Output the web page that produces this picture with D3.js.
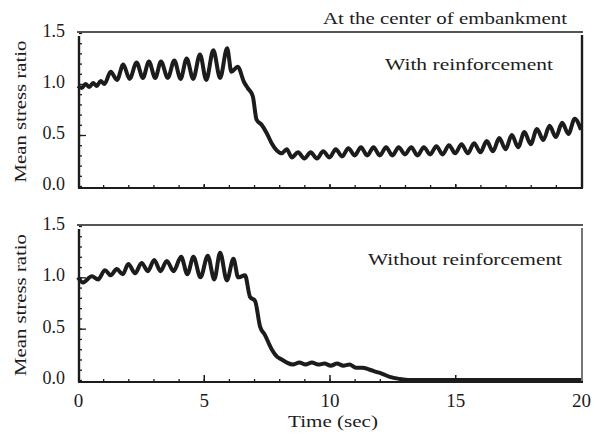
<!DOCTYPE html>
<html>
<head>
<meta charset="utf-8">
<script src="https://cdn.jsdelivr.net/npm/d3@7"></script>
<style>
  body { margin: 0; background: #fff; }
  text { font-family: "Liberation Serif", "Times New Roman", Times, serif; fill: #1c1c1c; }
</style>
</head>
<body>
<div id="chart"></div>
<script>
// time ticks and ratio ticks
let timeTicks = [0, 5, 10, 15, 20]
let ratioTicks = [0.0, 0.5, 1.0, 1.5]

// -- with reinforcement
let withTime = [0, 0.15, 0.3, 0.45, 0.6, 0.75, 0.9, 1.05, 1.3, 1.55, 1.8, 2.05, 2.33, 2.58, 2.82, 3.07,
  3.3, 3.57, 3.83, 4.08, 4.32, 4.58, 4.85, 5.1, 5.38, 5.65, 5.93, 6.1, 6.35, 6.6, 6.75, 6.95, 7.1,
  7.3, 7.5, 7.7, 7.9, 8.1, 8.3, 8.5, 8.75, 9.0, 9.25, 9.5, 9.75, 10.0, 10.25, 10.5, 10.75, 11.0,
  11.25, 11.5, 11.75, 12.0, 12.25, 12.5, 12.75, 13.0, 13.25, 13.5, 13.75, 14.0, 14.25, 14.5, 14.75,
  15.0, 15.25, 15.5, 15.75, 16.0, 16.25, 16.5, 16.75, 17.0, 17.25, 17.5, 17.75, 18.0, 18.25, 18.5,
  18.75, 19.0, 19.25, 19.5, 19.75, 20.0]
let withRatio = [0.98, 0.96, 1.0, 0.97, 1.01, 0.98, 1.03, 1.0, 1.12, 1.04, 1.19, 1.05, 1.21, 1.06, 1.22, 1.06,
  1.22, 1.06, 1.23, 1.05, 1.25, 1.05, 1.29, 1.04, 1.33, 1.06, 1.35, 1.12, 1.17, 1.02, 0.96, 0.88, 0.65,
  0.6, 0.52, 0.42, 0.35, 0.32, 0.36, 0.28, 0.33, 0.27, 0.33, 0.27, 0.34, 0.28, 0.36, 0.29, 0.37, 0.3,
  0.38, 0.3, 0.38, 0.3, 0.38, 0.3, 0.38, 0.31, 0.38, 0.3, 0.38, 0.31, 0.39, 0.31, 0.4,
  0.32, 0.41, 0.32, 0.42, 0.33, 0.44, 0.34, 0.47, 0.36, 0.5, 0.38, 0.53, 0.41, 0.56, 0.45,
  0.59, 0.48, 0.62, 0.51, 0.66, 0.55]

// -- without reinforcement
let withoutTime = [0, 0.2, 0.55, 0.8, 1.07, 1.3, 1.54, 1.78, 2.0, 2.27, 2.53, 2.78, 3.03, 3.28, 3.53, 3.8,
  4.1, 4.35, 4.59, 4.87, 5.16, 5.42, 5.65, 5.92, 6.18, 6.37, 6.64, 6.84, 7.04, 7.24, 7.43, 7.7, 7.9,
  8.1, 8.3, 8.55, 8.8, 9.05, 9.3, 9.55, 9.8, 10.05, 10.3, 10.55, 10.8, 11.05, 11.3, 11.6, 11.85,
  12.1, 12.4, 12.8, 13.2, 20]
let withoutRatio = [1.0, 0.95, 1.01, 0.98, 1.07, 1.02, 1.08, 1.03, 1.13, 1.04, 1.14, 1.06, 1.17, 1.06, 1.16, 1.06,
  1.2, 1.03, 1.2, 1.0, 1.21, 0.98, 1.24, 0.97, 1.18, 1.0, 1.02, 0.81, 0.77, 0.52, 0.44, 0.3, 0.23,
  0.2, 0.17, 0.15, 0.17, 0.15, 0.17, 0.15, 0.16, 0.14, 0.16, 0.14, 0.15, 0.12, 0.12, 0.1, 0.08,
  0.06, 0.03, 0.01, 0.0, 0.0]

let width = 595
let height = 440
let ink = '#1c1c1c'

let svg = d3.select('#chart').append('svg')
  .attr('width', width)
  .attr('height', height)

let xScale = d3.scaleLinear().domain([0, 20]).range([78, 581])

let panels = [
  { time: withTime, ratio: withRatio, top: 33, bottom: 186, label: 'With reinforcement',
    lx: 385, ly: 70, lw: 168, rightWidth: 2.4, showX: false },
  { time: withoutTime, ratio: withoutRatio, top: 226, bottom: 380, label: 'Without reinforcement',
    lx: 368, ly: 265, lw: 194, rightWidth: 1.2, showX: true }
]

panels.forEach(p => {
  let yScale = d3.scaleLinear().domain([0, 1.5]).range([p.bottom, p.top])
  let axisY = p.bottom + 2

  // frame: top line, right side
  svg.append('line')
    .attr('x1', 77).attr('x2', 583)
    .attr('y1', p.top - 1).attr('y2', p.top - 1)
    .attr('stroke', ink).attr('stroke-width', 1.5)
  svg.append('line')
    .attr('x1', 582).attr('x2', 582)
    .attr('y1', p.top + 2).attr('y2', axisY)
    .attr('stroke', ink).attr('stroke-width', p.rightWidth)

  // -- Y axis, ticks pointing inward
  svg.append('g')
    .attr('transform', 'translate(79, 0)')
    .call(d3.axisRight(yScale).tickValues(d3.range(0, 1.51, 0.1)).tickSize(3).tickFormat(''))
    .call(g => g.select('.domain').remove())
    .call(g => g.selectAll('line').attr('stroke', ink).attr('stroke-width', 1.3))
  svg.append('g')
    .attr('transform', 'translate(79, 0)')
    .call(d3.axisRight(yScale).tickValues([0.5, 1.0]).tickSize(7).tickFormat(''))
    .call(g => g.select('.domain').remove())
    .call(g => g.selectAll('line').attr('stroke', ink).attr('stroke-width', 1.3))
  svg.append('g')
    .attr('transform', 'translate(79, 0)')
    .call(d3.axisLeft(yScale).tickValues(ratioTicks).tickSize(0).tickPadding(14).tickFormat(d3.format('.1f')))
    .call(g => g.select('.domain').remove())
    .call(g => g.selectAll('text').style('font-size', '18px').attr('fill', ink).attr('dy', '0.2em'))
  svg.append('line')
    .attr('x1', 79).attr('x2', 79)
    .attr('y1', p.top + 3).attr('y2', axisY)
    .attr('stroke', ink).attr('stroke-width', 2.4)

  // -- X axis, ticks pointing up
  svg.append('g')
    .attr('transform', `translate(0, ${axisY})`)
    .call(d3.axisTop(xScale).tickValues(d3.range(1, 20, 1)).tickSize(3).tickFormat(''))
    .call(g => g.select('.domain').remove())
    .call(g => g.selectAll('line').attr('stroke', ink).attr('stroke-width', 1.3))
  svg.append('g')
    .attr('transform', `translate(0, ${axisY})`)
    .call(d3.axisTop(xScale).tickValues([5, 10, 15]).tickSize(p.showX ? 7 : 4).tickFormat(''))
    .call(g => g.select('.domain').remove())
    .call(g => g.selectAll('line').attr('stroke', ink).attr('stroke-width', 1.5))
  svg.append('line')
    .attr('x1', 78).attr('x2', 583)
    .attr('y1', axisY).attr('y2', axisY)
    .attr('stroke', ink).attr('stroke-width', 2.2)

  if (p.showX) {
    svg.append('g')
      .attr('transform', `translate(0, ${axisY})`)
      .call(d3.axisBottom(xScale).tickValues(timeTicks).tickSize(0).tickPadding(12))
      .call(g => g.select('.domain').remove())
      .call(g => g.selectAll('text').style('font-size', '19px').attr('fill', ink))
  }

  // -- the series
  let line = d3.line()
    .x((d, i) => xScale(p.time[i]))
    .y(d => yScale(d))
    .curve(d3.curveMonotoneX)
  svg.append('path')
    .datum(p.ratio)
    .attr('d', line)
    .attr('fill', 'none')
    .attr('stroke', ink)
    .attr('stroke-width', 4)
    .attr('stroke-linejoin', 'round')

  // labels
  svg.append('text')
    .attr('x', p.lx).attr('y', p.ly)
    .attr('textLength', p.lw).attr('lengthAdjust', 'spacingAndGlyphs')
    .style('font-size', '17px')
    .text(p.label)
  svg.append('text')
    .attr('transform', `translate(26, ${(p.top + p.bottom) / 2 + 2}) rotate(-90)`)
    .attr('text-anchor', 'middle')
    .attr('textLength', 142).attr('lengthAdjust', 'spacingAndGlyphs')
    .style('font-size', '17px')
    .text('Mean stress ratio')
})

svg.append('text')
  .attr('x', 323).attr('y', 24)
  .attr('textLength', 244).attr('lengthAdjust', 'spacingAndGlyphs')
  .style('font-size', '17px')
  .text('At the center of embankment')

svg.append('text')
  .attr('x', 288).attr('y', 427)
  .attr('textLength', 90).attr('lengthAdjust', 'spacingAndGlyphs')
  .style('font-size', '17px')
  .text('Time (sec)')
</script>
</body>
</html>
